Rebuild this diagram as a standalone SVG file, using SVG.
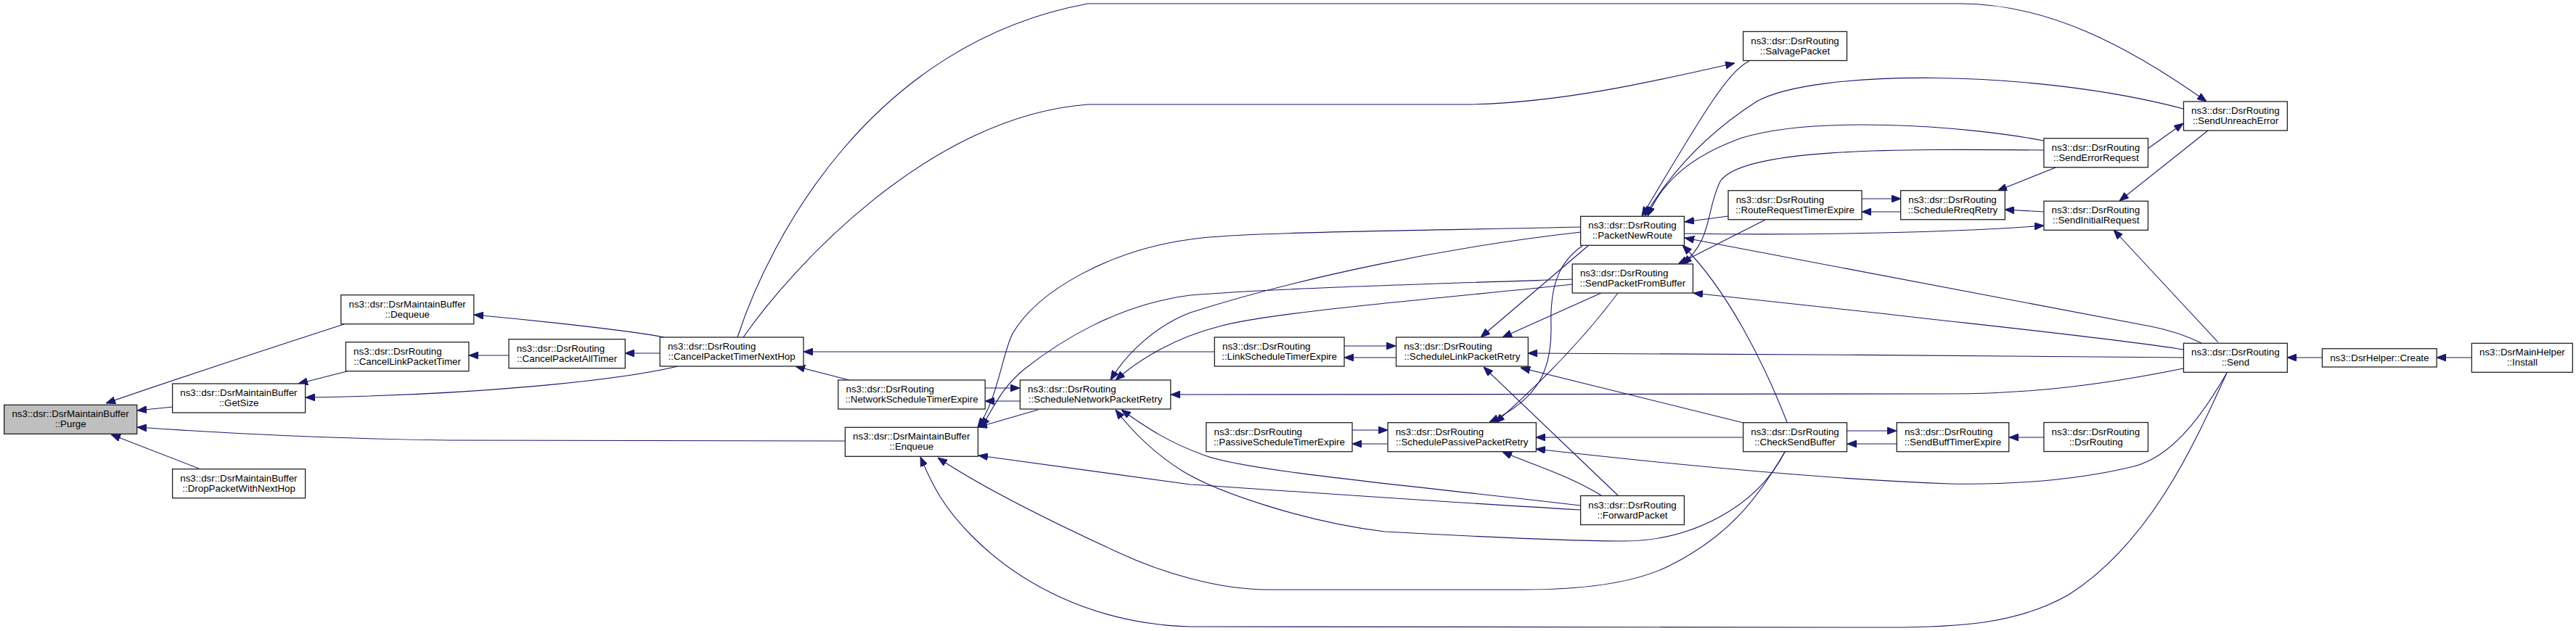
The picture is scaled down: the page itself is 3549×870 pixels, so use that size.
<svg xmlns="http://www.w3.org/2000/svg" width="3549" height="870" viewBox="0 0 3549 870">
<style>
.n rect{fill:#fff;stroke:#222;stroke-width:1.3}
.n.g rect{fill:#bfbfbf}
.n text{font-family:"Liberation Sans",Arial,Helvetica,sans-serif;font-size:13.33px;fill:#000}
.n text.c{text-anchor:middle}
.e path{fill:none;stroke:#191970;stroke-width:1.1;marker-end:url(#a)}
</style>
<defs>
<marker id="a" markerUnits="userSpaceOnUse" viewBox="0 0 13 10" markerWidth="13" markerHeight="10" refX="13" refY="5" orient="auto">
<path d="M0,0 L13,5 L0,10 z" fill="#191970" stroke="#191970" stroke-width="1"/>
</marker>
</defs>
<rect width="3549" height="870" fill="#fff"/>
<g class="e" id="edges">
<path d="M474,447 C360,484 250,520 146,556"/>
<path d="M238,561 L189,566"/>
<path d="M1164,608 L620,607 C450,605 320,598 189,589"/>
<path d="M274,646 L153,599"/>
<path d="M478,512 L411,529"/>
<path d="M934,505 C850,525 650,545 421,548"/>
<path d="M915,465 C870,456 740,442 653,434"/>
<path d="M701,490 L646,490"/>
<path d="M909,487 L861,487"/>
<path d="M1170,524 L1096,505"/>
<path d="M1673,485 L1107,485"/>
<path d="M1024,465 C1090,370 1280,160 1499,144 L2023,144 C2150,142 2280,112 2390,87"/>
<path d="M1016,465 C1060,330 1200,60 1499,5 L2700,5 C2820,5 2930,62 3040,140"/>
<path d="M2410,84 C2380,100 2350,150 2262,298"/>
<path d="M3008,150 C2800,95 2500,95 2420,140 C2350,185 2300,240 2266,298"/>
<path d="M2816,194 C2700,172 2500,160 2400,190 C2330,215 2290,250 2270,298"/>
<path d="M2816,207 C2600,205 2400,205 2370,250 C2350,290 2360,330 2318,364"/>
<path d="M2832,231 L2752,263"/>
<path d="M3042,180 L2920,277"/>
<path d="M2959,205 L3008,170"/>
<path d="M2565,274 L2619,274"/>
<path d="M2619,292 L2565,292"/>
<path d="M2816,292 L2762,289"/>
<path d="M2381,298 L2321,306"/>
<path d="M2320,322 C2500,325 2700,320 2816,311"/>
<path d="M2432,303 L2312,364"/>
<path d="M3033,473 C3010,462 2990,455 2963,450 L2321,328"/>
<path d="M3008,482 C2900,465 2700,445 2600,433 C2500,422 2400,412 2333,404"/>
<path d="M3008,493 C2800,491 2300,487 2105,487"/>
<path d="M3008,508 C2900,530 2800,543 2686,543 L1613,544"/>
<path d="M3068,514 C3030,580 2990,630 2940,643 C2850,665 2750,668 2686,667 C2500,660 2300,640 2116,619"/>
<path d="M3068,514 C3020,620 2960,750 2850,820 C2780,860 2700,865 2600,865 L1640,864 C1500,860 1400,800 1340,740 C1300,700 1285,670 1268,630"/>
<path d="M2459,623 C2420,690 2380,740 2300,780 C2250,805 2180,813 2099,813 L1747,813 C1680,813 1600,790 1537,760 C1450,720 1350,670 1292,631"/>
<path d="M2459,623 C2420,700 2330,745 2240,746 C2150,746 2000,738 1908,733 C1800,720 1680,680 1630,650 C1590,625 1560,595 1537,565"/>
<path d="M2178,697 C1950,670 1720,650 1660,628 C1610,610 1580,590 1545,565"/>
<path d="M2178,703 C1950,690 1750,675 1640,668 L1348,628"/>
<path d="M1430,565 L1347,589"/>
<path d="M2178,313 C1950,318 1700,320 1640,330 C1530,345 1430,400 1395,460 C1380,490 1375,550 1347,589"/>
<path d="M2166,385 C1950,392 1750,398 1640,407 C1540,420 1460,470 1410,510 C1380,535 1370,560 1352,589"/>
<path d="M2178,320 C2000,340 1800,380 1640,431 C1590,450 1550,490 1530,524"/>
<path d="M2166,392 C2000,410 1750,430 1680,450 C1620,465 1570,495 1537,524"/>
<path d="M2189,338 L2040,465"/>
<path d="M2206,404 L2070,465"/>
<path d="M2180,339 C2150,360 2135,390 2137,450 C2138,510 2120,550 2052,582"/>
<path d="M2229,404 C2180,470 2120,530 2060,583"/>
<path d="M1852,477 L1923,477"/>
<path d="M1923,493 L1852,493"/>
<path d="M1357,535 L1405,535"/>
<path d="M1405,553 L1357,553"/>
<path d="M1863,593 L1912,593"/>
<path d="M1912,612 L1863,612"/>
<path d="M2402,583 L2095,507"/>
<path d="M2402,603 L2116,603"/>
<path d="M2545,594 L2613,594"/>
<path d="M2613,612 L2545,612"/>
<path d="M2816,603 L2768,603"/>
<path d="M2206,683 C2160,655 2110,640 2070,623"/>
<path d="M2229,683 L2044,506"/>
<path d="M2462,582 C2430,500 2380,400 2318,338"/>
<path d="M3056,472 L2912,317"/>
<path d="M3199,493 L3151,493"/>
<path d="M3405,493 L3357,493"/>
</g>
<g class="n g" id="purge"><rect x="5.7" y="558.3" width="183" height="40"/><text x="16.4" y="575.3">ns3::dsr::DsrMaintainBuffer</text><text class="c" x="97.2" y="589.3">::Purge</text></g>
<g class="n" id="getsize"><rect x="237.6" y="529" width="183" height="40"/><text x="248.3" y="546">ns3::dsr::DsrMaintainBuffer</text><text class="c" x="329.1" y="560">::GetSize</text></g>
<g class="n" id="drop"><rect x="237.6" y="646.7" width="183" height="40"/><text x="248.3" y="663.7">ns3::dsr::DsrMaintainBuffer</text><text class="c" x="329.1" y="677.7">::DropPacketWithNextHop</text></g>
<g class="n" id="dequeue"><rect x="469.8" y="406.7" width="183" height="40"/><text x="480.5" y="423.7">ns3::dsr::DsrMaintainBuffer</text><text class="c" x="561.3" y="437.7">::Dequeue</text></g>
<g class="n" id="clpt"><rect x="476.4" y="471.7" width="169.5" height="40"/><text x="487.1" y="488.7">ns3::dsr::DsrRouting</text><text class="c" x="561.1" y="502.7">::CancelLinkPacketTimer</text></g>
<g class="n" id="cpat"><rect x="701" y="467.7" width="160.3" height="40"/><text x="711.7" y="484.7">ns3::dsr::DsrRouting</text><text class="c" x="781.2" y="498.7">::CancelPacketAllTimer</text></g>
<g class="n" id="cptnh"><rect x="909.2" y="465" width="197.8" height="40"/><text x="919.9" y="482">ns3::dsr::DsrRouting</text><text class="c" x="1008.1" y="496">::CancelPacketTimerNextHop</text></g>
<g class="n" id="nste"><rect x="1154.8" y="524" width="202.4" height="40"/><text x="1165.5" y="541">ns3::dsr::DsrRouting</text><text class="c" x="1256" y="555">::NetworkScheduleTimerExpire</text></g>
<g class="n" id="enqueue"><rect x="1164.4" y="589.3" width="183" height="40"/><text x="1175.1" y="606.3">ns3::dsr::DsrMaintainBuffer</text><text class="c" x="1255.9" y="620.3">::Enqueue</text></g>
<g class="n" id="snpr"><rect x="1405.4" y="524" width="207.4" height="40"/><text x="1416.1" y="541">ns3::dsr::DsrRouting</text><text class="c" x="1509.1" y="555">::ScheduleNetworkPacketRetry</text></g>
<g class="n" id="lste"><rect x="1673.3" y="465" width="178.7" height="40"/><text x="1684" y="482">ns3::dsr::DsrRouting</text><text class="c" x="1762.6" y="496">::LinkScheduleTimerExpire</text></g>
<g class="n" id="pste"><rect x="1661.8" y="582.7" width="201.2" height="40"/><text x="1672.5" y="599.7">ns3::dsr::DsrRouting</text><text class="c" x="1762.4" y="613.7">::PassiveScheduleTimerExpire</text></g>
<g class="n" id="slpr"><rect x="1923.5" y="465" width="181.8" height="40"/><text x="1934.2" y="482">ns3::dsr::DsrRouting</text><text class="c" x="2014.4" y="496">::ScheduleLinkPacketRetry</text></g>
<g class="n" id="sppr"><rect x="1912" y="582.7" width="204.4" height="40"/><text x="1922.7" y="599.7">ns3::dsr::DsrRouting</text><text class="c" x="2014.2" y="613.7">::SchedulePassivePacketRetry</text></g>
<g class="n" id="pnr"><rect x="2177.6" y="298.3" width="142.8" height="40"/><text x="2188.3" y="315.3">ns3::dsr::DsrRouting</text><text class="c" x="2249" y="329.3">::PacketNewRoute</text></g>
<g class="n" id="sfb"><rect x="2166.2" y="364" width="166.2" height="40"/><text x="2176.9" y="381">ns3::dsr::DsrRouting</text><text class="c" x="2249.3" y="395">::SendPacketFromBuffer</text></g>
<g class="n" id="fp"><rect x="2177.6" y="683.5" width="142.8" height="40"/><text x="2188.3" y="700.5">ns3::dsr::DsrRouting</text><text class="c" x="2249" y="714.5">::ForwardPacket</text></g>
<g class="n" id="sp"><rect x="2401.6" y="43.5" width="142.9" height="40"/><text x="2412.3" y="60.5">ns3::dsr::DsrRouting</text><text class="c" x="2473" y="74.5">::SalvagePacket</text></g>
<g class="n" id="rrte"><rect x="2381" y="262.7" width="184" height="40"/><text x="2391.7" y="279.7">ns3::dsr::DsrRouting</text><text class="c" x="2473" y="293.7">::RouteRequestTimerExpire</text></g>
<g class="n" id="csb"><rect x="2401.6" y="582.7" width="142.9" height="40"/><text x="2412.3" y="599.7">ns3::dsr::DsrRouting</text><text class="c" x="2473" y="613.7">::CheckSendBuffer</text></g>
<g class="n" id="srr"><rect x="2618.6" y="262.7" width="143.7" height="40"/><text x="2629.3" y="279.7">ns3::dsr::DsrRouting</text><text class="c" x="2690.4" y="293.7">::ScheduleRreqRetry</text></g>
<g class="n" id="sbte"><rect x="2613.2" y="582.7" width="154.5" height="40"/><text x="2623.9" y="599.7">ns3::dsr::DsrRouting</text><text class="c" x="2690.4" y="613.7">::SendBuffTimerExpire</text></g>
<g class="n" id="ser"><rect x="2815.9" y="190.7" width="143.5" height="40"/><text x="2826.6" y="207.7">ns3::dsr::DsrRouting</text><text class="c" x="2887.7" y="221.7">::SendErrorRequest</text></g>
<g class="n" id="sir"><rect x="2815.9" y="277.3" width="143.5" height="40"/><text x="2826.6" y="294.3">ns3::dsr::DsrRouting</text><text class="c" x="2887.7" y="308.3">::SendInitialRequest</text></g>
<g class="n" id="dr"><rect x="2815.9" y="582.5" width="143.5" height="40"/><text x="2826.6" y="599.5">ns3::dsr::DsrRouting</text><text class="c" x="2887.7" y="613.5">::DsrRouting</text></g>
<g class="n" id="sue"><rect x="3008.4" y="140" width="142.9" height="40"/><text x="3019.1" y="157">ns3::dsr::DsrRouting</text><text class="c" x="3079.9" y="171">::SendUnreachError</text></g>
<g class="n" id="send"><rect x="3008.4" y="473.3" width="142.9" height="40"/><text x="3019.1" y="490.3">ns3::dsr::DsrRouting</text><text class="c" x="3079.9" y="504.3">::Send</text></g>
<g class="n" id="create"><rect x="3199.4" y="480.7" width="157.7" height="25.3"/><text class="c" x="3278.3" y="497.5">ns3::DsrHelper::Create</text></g>
<g class="n" id="install"><rect x="3405.3" y="473.3" width="139" height="40"/><text x="3416" y="490.3">ns3::DsrMainHelper</text><text class="c" x="3474.8" y="504.3">::Install</text></g>
</svg>
